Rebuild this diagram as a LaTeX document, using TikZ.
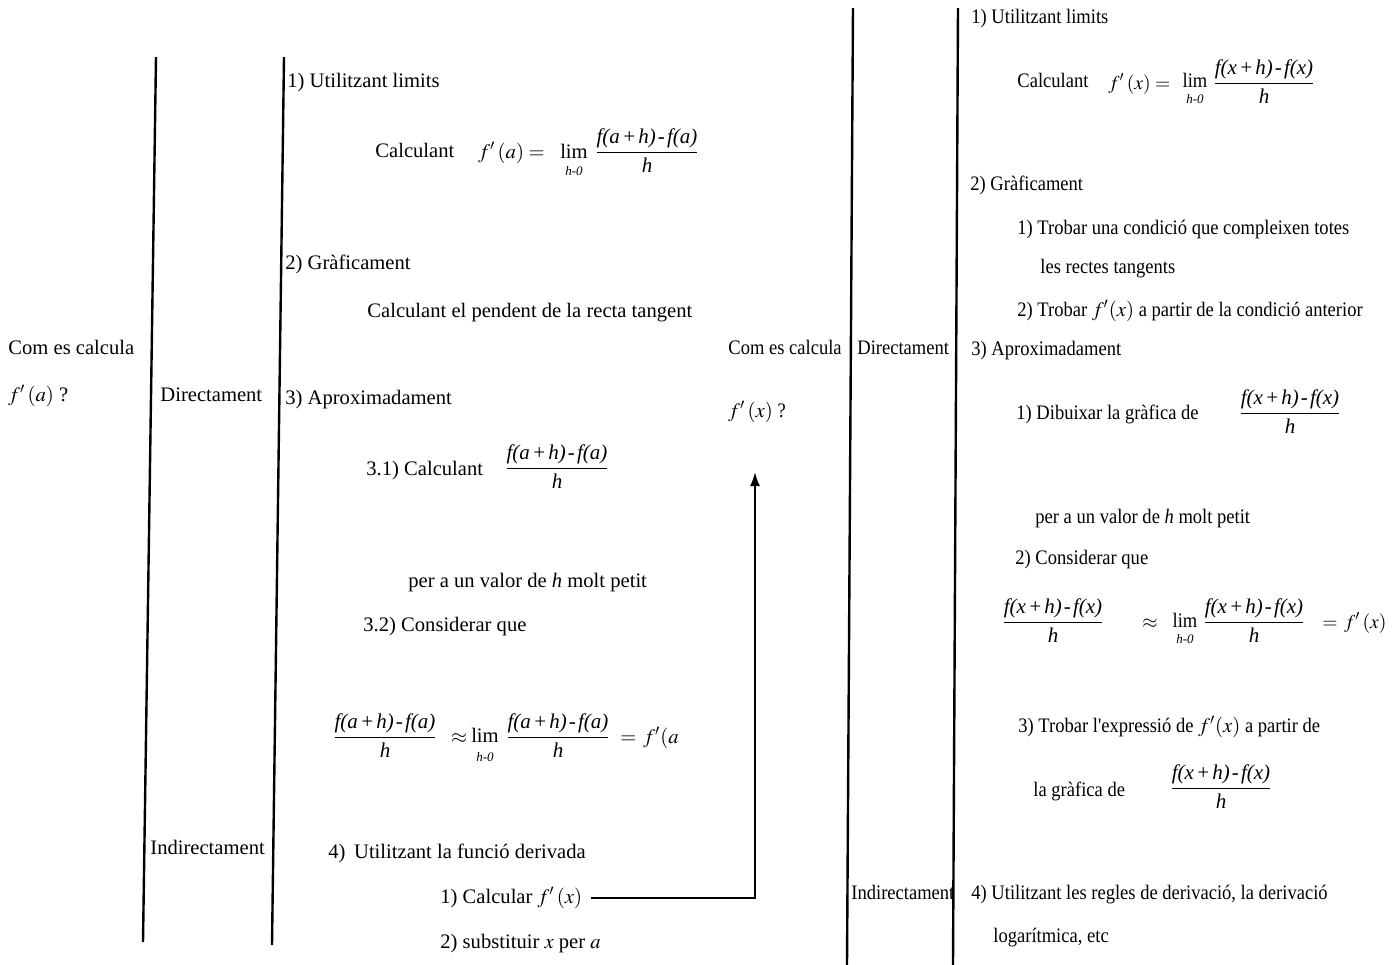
\documentclass[tikz,border=0pt]{standalone}
\usepackage{amsmath}
\usepackage{mathptmx}
\usepackage{fontspec}
\setmainfont{Liberation Serif}
\newfontfamily\narrowserif[FakeStretch=0.9]{Liberation Serif}
\usetikzlibrary{arrows.meta}
\newcommand{\diffq}[1]{$\dfrac{\text{\itshape f(#1\kern.1em+\kern.1em h)\kern.1em-\kern.1em f(#1)}}{\text{\itshape h}}$}

\begin{document}
\begin{tikzpicture}[x=0.5pt, y=-0.5pt,
  lt/.style={anchor=base west, inner sep=0pt, font=\fontsize{10.3}{12}\selectfont},
  rt/.style={anchor=base west, inner sep=0pt, font=\narrowserif\fontsize{10.3}{12}\selectfont},
  lmid/.style={anchor=base, inner sep=0pt, font=\fontsize{10.3}{12}\selectfont},
  limsub/.style={anchor=base, inner sep=0pt, font=\itshape\fontsize{6.5}{8}\selectfont},
  frac/.style={anchor=base, inner sep=0pt, font=\fontsize{10.5}{12}\selectfont},
  bar/.style={line width=1.2pt}]
\useasboundingbox (0,0) rectangle (1394,965);
% separators
\draw[bar] (156,57) -- (143,942);
\draw[bar] (284,57) -- (272,945);
\draw[bar] (853,8) -- (847,965);
\draw[bar] (958,8) -- (953,965);

% left: f'(a)
\node[lt] (qa1) at (8,354) {Com es calcula};
\node[lt] (qa2) at (8,401) {$f'\,(a)$ ?};
\node[lt] (dira) at (160,401) {Directament};
\node[lt] (inda) at (150,854) {Indirectament};
\node[lt] (lima) at (287,87) {1) Utilitzant limits};
\node[lt] (lima1) at (375,157) {Calculant};
\node[lt] (lima2) at (478,158) {$f'\,(a) =$};
\node[lmid] (lima3) at (574,158) {lim};
\node[limsub] (lima3s) at (574,175) {h-0};
\node[frac] (lima4) at (647,158) {\diffq{a}};
\node[lt] (grafa) at (285,269) {2) Gràficament};
\node[lt] (grafa1) at (367,317) {Calculant el pendent de la recta tangent};
\node[lt] (aproxa) at (285,404) {3) Aproximadament};
\node[lt] (aproxa1) at (366,475) {3.1) Calculant};
\node[frac] (aproxa2) at (557,474) {\diffq{a}};
\node[lt] (aproxa3) at (408,587) {per a un valor de \textit{h} molt petit};
\node[lt] (aproxa4) at (363,631) {3.2) Considerar que};
\node[frac] (eqa1) at (385,743) {\diffq{a}};
\node[lmid] (eqa2) at (459,743) {$\approx$};
\node[lmid] (eqa3) at (485,742) {lim};
\node[limsub] (eqa3s) at (485,761) {h-0};
\node[frac] (eqa4) at (558,743) {\diffq{a}};
\node[lt] (eqa5) at (620,743) {$=\,f'(a$};
\node[lt] (deriva) at (328,858) {4)\, Utilitzant la funció derivada};
\node[lt] (calc1) at (440,903) {1) Calcular $f'\,(x)$};
\node[lt] (calc2) at (440,948) {2) substituir $x$ per $a$};

% right: f'(x)
\node[rt] (qx1) at (728,354) {Com es calcula};
\node[rt] (qx) at (728,417) {$f'\,(x)$ ?};
\node[rt] (dirx) at (857,354) {Directament};
\node[rt] (indx) at (851,899) {Indirectament};
\node[rt] (limx) at (971,23) {1) Utilitzant limits};
\node[rt] (limx1) at (1017,87) {Calculant};
\node[rt, font=\fontsize{9.8}{12}\selectfont] (limx2) at (1108,89) {$f'\,(x) =$};
\node[rt, anchor=base] (limx3) at (1195,87) {lim};
\node[limsub] (limx3s) at (1195,103) {h-0};
\node[frac] (limx4) at (1264,89) {\diffq{x}};
\node[rt] (grafx) at (970,190) {2) Gràficament};
\node[rt] (grafx1) at (1017,234) {1) Trobar una condició que compleixen totes};
\node[rt] (grafx2) at (1040,273) {les rectes tangents};
\node[rt] (grafx3) at (1017,316) {2) Trobar $f'(x)$ a partir de la condició anterior};
\node[rt] (aproxx) at (971,355) {3) Aproximadament};
\node[rt] (aproxx1) at (1016,419) {1) Dibuixar la gràfica de};
\node[frac] (aproxx2) at (1290,419) {\diffq{x}};
\node[rt] (aproxx3) at (1035,523) {per a un valor de \textit{h} molt petit};
\node[rt] (aproxx4) at (1015,564) {2) Considerar que};
\node[frac] (eqx1) at (1053,628) {\diffq{x}};
\node[lmid, font=\fontsize{9.8}{12}\selectfont] (eqx2) at (1150,628) {$\approx$};
\node[rt, anchor=base] (eqx3) at (1185,627) {lim};
\node[limsub] (eqx3s) at (1185,643) {h-0};
\node[frac] (eqx4) at (1254,628) {\diffq{x}};
\node[rt, font=\fontsize{9.8}{12}\selectfont] (eqx5) at (1322,628) {$=\,f'\,(x)$};
\node[rt] (aproxx5) at (1018,732) {3) Trobar l'expressió de $f'(x)$ a partir de};
\node[rt] (aproxx6) at (1033,796) {la gràfica de};
\node[frac] (aproxx7) at (1221,794) {\diffq{x}};
\node[rt] (regles) at (971,899) {4) Utilitzant les regles de derivació, la derivació};
\node[rt] (regles1) at (993,942) {logarítmica, etc};

% f'(x) found first, then a
\coordinate (tip) at (755,472);
\draw[line width=1pt, -{Latex[length=7pt,width=5pt]}] ([xshift=4pt]calc1.east) -| (tip);
\end{tikzpicture}
\end{document}
